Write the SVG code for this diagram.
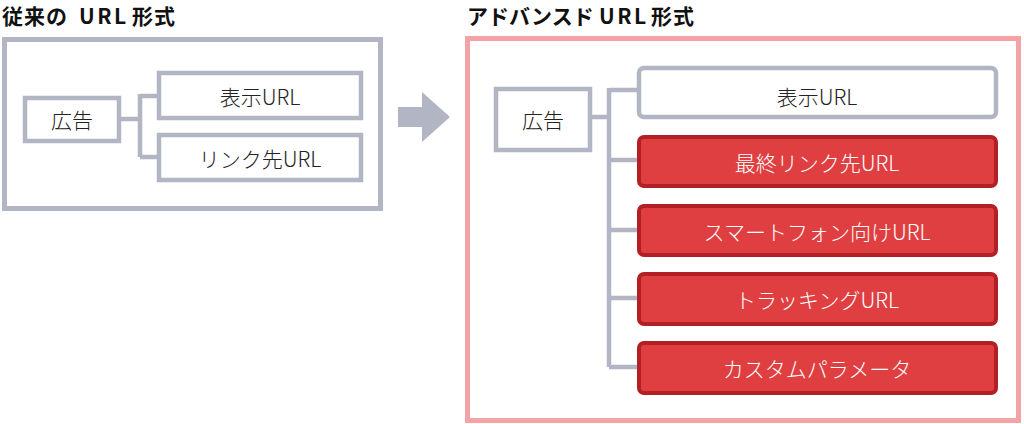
<svg xmlns="http://www.w3.org/2000/svg" width="1024" height="424" viewBox="0 0 1024 424">
<style>
text{font-family:"Noto Sans CJK JP","Noto Sans",sans-serif;}
.title{font-size:21px;font-weight:bold;fill:#111;}
.url{letter-spacing:2.5px;}
.sp{letter-spacing:1px;}
.lbl{font-size:21px;font-weight:300;fill:#222;text-anchor:middle;dominant-baseline:central;}
.wl{font-size:21px;font-weight:300;fill:#fff;text-anchor:middle;dominant-baseline:central;}
.gbox{fill:#fff;stroke:#b2b5c3;stroke-width:4.5;}
.rbox{fill:#df3f41;stroke:#b21f24;stroke-width:4;}
.conn{fill:none;stroke:#b2b5c3;stroke-width:4.5;}
</style>
<rect width="1024" height="424" fill="#fff"/>
<text class="title" y="24"><tspan class="sp" x="2">従来の</tspan><tspan class="url" x="79">URL</tspan><tspan class="sp" x="132">形式</tspan></text>
<text class="title" y="24"><tspan x="467">アドバンスド</tspan><tspan class="url" x="599">URL</tspan><tspan class="sp" x="651">形式</tspan></text>
<g id="left-frame"><rect x="4.5" y="39.5" width="376" height="169" fill="#fff" stroke="#b2b5c3" stroke-width="5"/></g>
<g id="right-frame"><rect x="467.5" y="38.5" width="551" height="382" fill="#fff" stroke="#f3a3a5" stroke-width="5"/></g>
<g id="connectors">
<path class="conn" d="M121 119 H140 M140 94 V157 M140 96 H159 M140 157 H159"/>
<path class="conn" d="M592 117 H609 M609 88 V367 M609 90 H637 M609 160 H637 M609 230 H637 M609 298 H637 M609 367 H637"/>
</g>
<g id="arrow"><polygon points="398,107 422,107 422,92 450,117 422,142 422,127 398,127" fill="#b2b5c3"/></g>
<g id="left-ad"><rect class="gbox" x="25" y="98" width="94" height="43"/><text class="lbl" x="72" y="119">広告</text></g>
<g id="left-display"><rect class="gbox" x="159" y="73" width="202" height="45"/><text class="lbl" x="260" y="96">表示URL</text></g>
<g id="left-link"><rect class="gbox" x="159" y="135" width="202" height="45"/><text class="lbl" x="260" y="158">リンク先URL</text></g>
<g id="right-ad"><rect class="gbox" x="496" y="89" width="94" height="61"/><text class="lbl" x="543" y="119">広告</text></g>
<g id="right-display"><rect class="gbox" x="639" y="68" width="357" height="49" rx="5"/><text class="lbl" x="817" y="96">表示URL</text></g>
<g id="final-url"><rect class="rbox" x="639" y="137" width="357" height="49" rx="5"/><text class="wl" x="817" y="162">最終リンク先URL</text></g>
<g id="smartphone-url"><rect class="rbox" x="639" y="206" width="357" height="49" rx="5"/><text class="wl" x="817" y="231">スマートフォン向けURL</text></g>
<g id="tracking-url"><rect class="rbox" x="639" y="274" width="357" height="50" rx="5"/><text class="wl" x="817" y="299">トラッキングURL</text></g>
<g id="custom-param"><rect class="rbox" x="639" y="343" width="357" height="50" rx="5"/><text class="wl" x="817" y="368">カスタムパラメータ</text></g>
</svg>
